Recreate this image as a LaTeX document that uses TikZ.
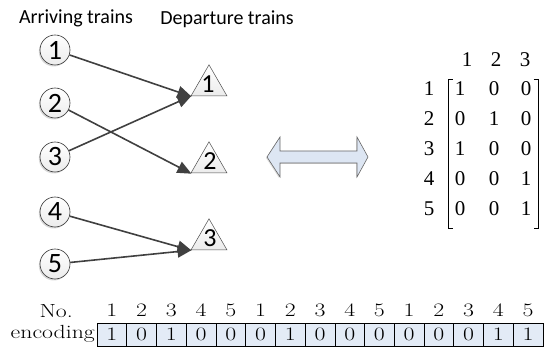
\documentclass[tikz,border=0pt]{standalone}
\usepackage{fontspec}
\setmainfont{Carlito}
\newfontfamily\matfont{Liberation Serif}
\newfontfamily\simfont[FakeStretch=1.25]{Latin Modern Roman}
\usetikzlibrary{shapes.geometric,arrows.meta,shadows}
\definecolor{arrcol}{HTML}{404040}
\definecolor{boxblue}{HTML}{E3EBF6}
\definecolor{dblue}{HTML}{DDE6F3}
\tikzset{
  arrtrain/.style={circle,draw=black!80,line width=0.6pt,minimum size=30pt,inner sep=0pt,
    top color=white,bottom color=gray!15,
    drop shadow={shadow xshift=-1.2pt,shadow yshift=-1.5pt,fill=gray!60},
    font=\fontsize{28}{28}\selectfont},
  deptrain/.style={regular polygon,regular polygon sides=3,draw=black!70,line width=0.5pt,
    minimum size=41.6pt,inner sep=0pt,top color=white,bottom color=gray!15},
  tnum/.style={font=\fontsize{26}{26}\selectfont,inner sep=0pt},
  link/.style={draw=arrcol,line width=1.6pt,-{Triangle[length=14pt,width=12pt]},shorten >=-1pt},
  title/.style={font=\fontsize{20}{20}\selectfont},
  mat/.style={font=\matfont\fontsize{21}{21}\selectfont,inner sep=0pt},
  cell/.style={draw=black,line width=0.6pt,fill=boxblue,minimum width=29.73pt,minimum height=23pt,
    inner sep=0pt,font=\simfont\fontsize{19}{19}\selectfont},
  hdr/.style={font=\simfont\fontsize{19}{19}\selectfont,inner sep=0pt},
}
\begin{document}
\begin{tikzpicture}[x=1pt,y=-1pt]
\useasboundingbox (0,0) rectangle (546,347);
% titles
\node[title] (ta) at (76,18) {Arriving trains};
\node[title] (td) at (227,19) {Departure trains};
% arriving circles
\node[arrtrain] (c1) at (55,50) {1};
\node[arrtrain] (c2) at (55,103) {2};
\node[arrtrain] (c3) at (55,157) {3};
\node[arrtrain] (c4) at (55,212) {4};
\node[arrtrain] (c5) at (55,264) {5};
% departure triangles
\node[deptrain] (t1) at (209,85.6) {};
\node[deptrain] (t2) at (209,162.6) {};
\node[deptrain] (t3) at (209,239.6) {};
\node[tnum] (l1) at (208,84) {1};
\node[tnum] (l2) at (210,161) {2};
\node[tnum] (l3) at (210,238) {3};
% connectors
\draw[link] (c1) -- (t1.corner 2);
\draw[link] (c3) -- (t1.corner 2);
\draw[link] (c2) -- (t2.corner 2);
\draw[link] (c4) -- (t3.corner 2);
\draw[link] (c5) -- (t3.corner 2);
% double arrow
\draw[draw=gray!80!black,line width=0.6pt,fill=dblue,
  drop shadow={shadow xshift=-1pt,shadow yshift=-1pt,fill=gray!50}]
  (267,157) -- (280,137) -- (280,151) -- (357,151) -- (357,137) -- (368,157)
  -- (357,177) -- (357,163) -- (280,163) -- (280,177) -- cycle;
% matrix
\foreach \c [count=\i] in {467,496,525} {
  \node[mat] (h\i) at (\c,60) {\i};
}
\foreach \r [count=\j] in {89,119,149,179,209} {
  \node[mat] (r\j) at (429,\r) {\j};
}
\foreach \j/\r/\a/\b/\cc in {1/89/1/0/0, 2/119/0/1/0, 3/149/1/0/0, 4/179/0/0/1, 5/209/0/0/1} {
  \node[mat] (m\j a) at (460,\r) {\a};
  \node[mat] (m\j b) at (494,\r) {\b};
  \node[mat] (m\j c) at (526,\r) {\cc};
}
\draw[line width=0.6pt] (452.5,79) -- (448,79) -- (448,228) -- (452.5,228);
\draw[line width=0.6pt] (533.5,79) -- (538,79) -- (538,228) -- (533.5,228);
% encoding row
\node[hdr,anchor=east] (no) at (73,311) {No.};
\node[hdr,anchor=east] (enc) at (95,334) {encoding};
\foreach \v [count=\k] in {1,0,1,0,0,0,1,0,0,0,0,0,0,1,1} {
  \pgfmathsetmacro{\xx}{97+29.73*(\k-0.5)}
  \pgfmathtruncatemacro{\nn}{mod(\k-1,5)+1}
  \node[cell] (b\k) at (\xx,334.5) {\v};
  \node[hdr] (n\k) at (\xx,310) {\nn};
}
\end{tikzpicture}
\end{document}
